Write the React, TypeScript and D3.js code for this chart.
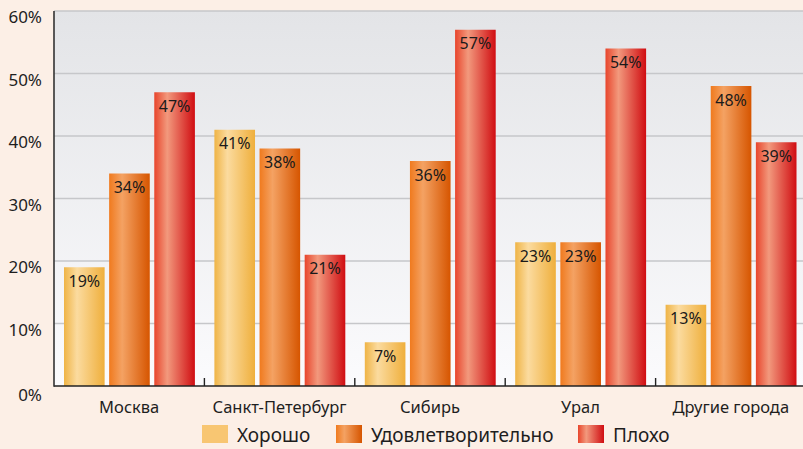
import * as d3 from "d3";

const regions = ["Москва", "Санкт-Петербург", "Сибирь", "Урал", "Другие города"];
const seriesNames = ["Хорошо", "Удовлетворительно", "Плохо"];
const good = [19, 41, 7, 23, 13];
const fair = [34, 38, 36, 23, 48];
const bad = [47, 21, 57, 54, 39];
const yTicks = [0, 10, 20, 30, 40, 50, 60];

const W = 803;
const H = 449;
const m = { left: 54, top: 11, bottom: 386, right: 806 };
const font = "'Noto Sans', 'Open Sans', sans-serif";

// gradient stops per series: edge, highlight, dark edge
const grads = [
  ["#efb446", "#fbdb9f", "#efaf3c"],
  ["#f07a1e", "#f4a263", "#d65500"],
  ["#e8452c", "#f2997d", "#d00d12"],
];

const App = () => {
  const values = [good, fair, bad];
  const x = d3.scaleBand().domain(regions).range([m.left, m.right]);
  const inner = d3
    .scaleBand()
    .domain(seriesNames)
    .range([10, x.bandwidth() - 9.5])
    .paddingInner(0.1);
  const y = d3.scaleLinear().domain([0, 60]).range([m.bottom, m.top]);

  const bars = regions.flatMap((r, i) =>
    seriesNames.map((s, j) => ({ r, s, j, v: values[j][i] }))
  );

  return (
    <svg
      width={W}
      height={H}
      style={{ position: "absolute", left: 0, top: 0, background: "#fcefe6" }}
    >
      <defs>
        <linearGradient id="plotbg" x1="0" y1="0" x2="0" y2="1">
          <stop offset="0" stopColor="#e3e4e7" />
          <stop offset="1" stopColor="#fbfbfd" />
        </linearGradient>
        {grads.map((g, i) => (
          <linearGradient key={i} id={"bar" + i} x1="0" y1="0" x2="1" y2="0">
            <stop offset="0" stopColor={g[0]} />
            <stop offset="0.32" stopColor={g[1]} />
            <stop offset="1" stopColor={g[2]} />
          </linearGradient>
        ))}
      </defs>
      <rect
        x={m.left}
        y={m.top}
        width={W - m.left}
        height={m.bottom - m.top}
        fill="url(#plotbg)"
      />
      {yTicks.map((t) => (
        <g key={t}>
          {t > 0 && (
            <line
              x1={m.left}
              x2={W}
              y1={y(t)}
              y2={y(t)}
              stroke="#c6c7ca"
              strokeWidth={1.6}
            />
          )}
          <text
            x={42}
            y={y(t) + 12 + (t === 0 ? 3 : 0)}
            textAnchor="end"
            fontFamily={font}
            fontSize={17}
            fill="#1e1e1e"
          >
            {t}%
          </text>
        </g>
      ))}
      {bars.map((b) => {
        const bx = (x(b.r) as number) + (inner(b.s) as number);
        return (
          <g key={b.r + b.s}>
            <rect
              x={bx}
              y={y(b.v)}
              width={inner.bandwidth()}
              height={m.bottom - y(b.v)}
              fill={`url(#bar${b.j})`}
            />
            <text
              x={bx + inner.bandwidth() / 2}
              y={y(b.v) + 19.5}
              textAnchor="middle"
              fontFamily={font}
              fontSize={16}
              fill="#1a1a1a"
            >
              {b.v}%
            </text>
          </g>
        );
      })}
      <line x1={m.left} x2={W} y1={m.bottom} y2={m.bottom} stroke="#222" strokeWidth={1.6} />
      <line x1={m.left} x2={m.left} y1={m.top} y2={m.bottom + 0.8} stroke="#333" strokeWidth={1.6} />
      {regions.slice(1).map((r) => (
        <line
          key={r}
          x1={x(r)}
          x2={x(r)}
          y1={m.bottom - 8}
          y2={m.bottom}
          stroke="#222"
          strokeWidth={1.4}
        />
      ))}
      {regions.map((r) => (
        <text
          key={r}
          x={(x(r) as number) + x.bandwidth() / 2}
          y={413}
          textAnchor="middle"
          fontFamily={font}
          fontSize={16.5}
          fill="#1e1e1e"
        >
          {r}
        </text>
      ))}
      {seriesNames.map((s, i) => {
        const lx = [202, 336, 578][i];
        return (
          <g key={s}>
            <rect
              x={lx}
              y={425}
              width={26}
              height={18}
              fill={i === 0 ? "#f8c672" : `url(#bar${i})`}
            />
            <text x={lx + 35} y={442} fontFamily={font} fontSize={19} fill="#1e1e1e">
              {s}
            </text>
          </g>
        );
      })}
    </svg>
  );
};

export default App;
